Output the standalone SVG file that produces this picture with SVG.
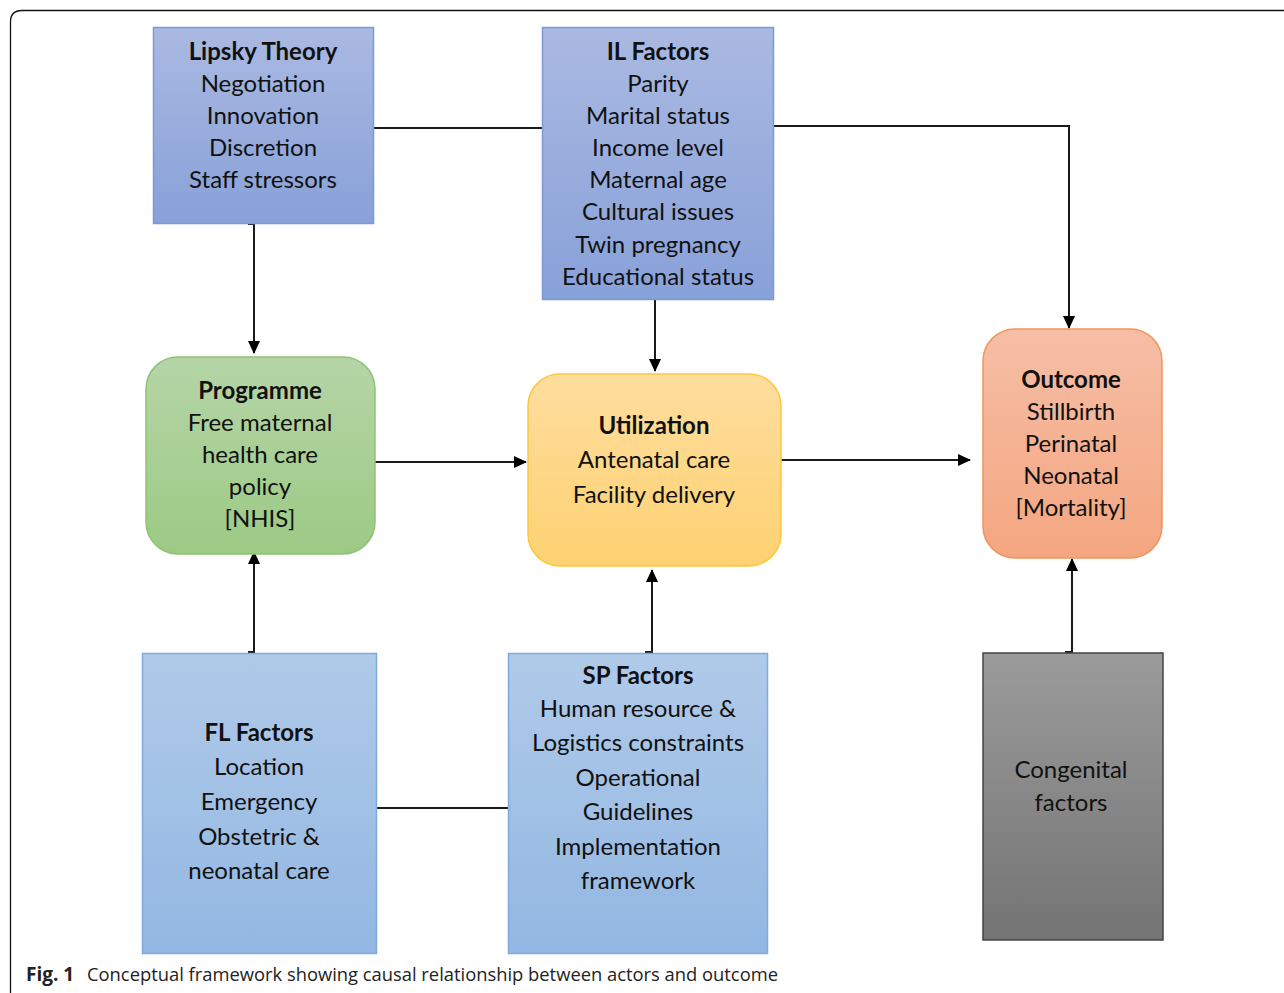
<svg xmlns="http://www.w3.org/2000/svg" width="1284" height="993" viewBox="0 0 1284 993">
<defs>
<linearGradient id="gBlue1" x1="0" y1="0" x2="0" y2="1"><stop offset="0" stop-color="#aab9e1"/><stop offset="1" stop-color="#88a1d9"/></linearGradient>
<linearGradient id="gBlue2" x1="0" y1="0" x2="0" y2="1"><stop offset="0" stop-color="#b0cae9"/><stop offset="1" stop-color="#92b7e2"/></linearGradient>
<linearGradient id="gGreen" x1="0" y1="0" x2="0" y2="1"><stop offset="0" stop-color="#b5d5a7"/><stop offset="1" stop-color="#9cca84"/></linearGradient>
<linearGradient id="gYellow" x1="0" y1="0" x2="0" y2="1"><stop offset="0" stop-color="#fedd9e"/><stop offset="1" stop-color="#fed272"/></linearGradient>
<linearGradient id="gOrange" x1="0" y1="0" x2="0" y2="1"><stop offset="0" stop-color="#f6bea6"/><stop offset="1" stop-color="#f4a680"/></linearGradient>
<linearGradient id="gGrey" x1="0" y1="0" x2="0" y2="1"><stop offset="0" stop-color="#9b9b9b"/><stop offset="1" stop-color="#747474"/></linearGradient>
<marker id="arr" markerUnits="userSpaceOnUse" markerWidth="13" markerHeight="13" viewBox="0 0 13 13" refX="12" refY="6.5" orient="auto"><path d="M0,0.5 L13,6.5 L0,12.5 z" fill="#000"/></marker>
</defs>
<style>
.t{font-family:Lato,"Open Sans","DejaVu Sans",sans-serif;font-size:24px;fill:#111;text-anchor:middle}
.b{font-weight:bold}
.c{stroke:#1a1a1a;stroke-width:2;fill:none}
.cap{font-family:"Open Sans","Liberation Sans",sans-serif;font-size:19px;fill:#222}
</style>
<rect width="1284" height="993" fill="#fff"/>
<path d="M10.5 993 V22 Q10.5 10.5 22 10.5 H1284" fill="none" stroke="#111" stroke-width="1.3"/>

<g id="connectors">
<line class="c" x1="374" y1="128" x2="542" y2="128"/>
<polyline class="c" points="774,126 1069,126 1069,328" marker-end="url(#arr)"/>
<polyline class="c" points="248,224 254,224 254,353" marker-end="url(#arr)"/>
<line class="c" x1="655" y1="300" x2="655" y2="371" marker-end="url(#arr)"/>
<line class="c" x1="375" y1="462" x2="526" y2="462" marker-end="url(#arr)"/>
<line class="c" x1="781" y1="460" x2="970" y2="460" marker-end="url(#arr)"/>
<polyline class="c" points="248,652 254,652 254,552" marker-end="url(#arr)"/>
<line class="c" x1="377" y1="808" x2="508" y2="808"/>
<polyline class="c" points="645,652 652,652 652,570" marker-end="url(#arr)"/>
<polyline class="c" points="1065,652 1072,652 1072,559" marker-end="url(#arr)"/>
</g>

<g id="lipsky">
<rect x="153.5" y="27.5" width="220" height="196" fill="url(#gBlue1)" stroke="#7b9ad6" stroke-width="1.5"/>
<text class="t b" x="263" y="60">Lipsky Theory</text>
<text class="t" x="263" y="92">Negotiation</text>
<text class="t" x="263" y="124">Innovation</text>
<text class="t" x="263" y="156">Discretion</text>
<text class="t" x="263" y="188">Staff stressors</text>
</g>

<g id="il">
<rect x="542.5" y="27.5" width="231" height="272" fill="url(#gBlue1)" stroke="#7b9ad6" stroke-width="1.5"/>
<text class="t b" x="658" y="60">IL Factors</text>
<text class="t" x="658" y="92">Parity</text>
<text class="t" x="658" y="124">Marital status</text>
<text class="t" x="658" y="156">Income level</text>
<text class="t" x="658" y="188">Maternal age</text>
<text class="t" x="658" y="220">Cultural issues</text>
<text class="t" x="658" y="253">Twin pregnancy</text>
<text class="t" x="658" y="285">Educational status</text>
</g>

<g id="programme">
<rect x="146" y="357" width="229" height="197" rx="32" fill="url(#gGreen)" stroke="#8fc274" stroke-width="1.5"/>
<text class="t b" x="260" y="399">Programme</text>
<text class="t" x="260" y="431">Free maternal</text>
<text class="t" x="260" y="463">health care</text>
<text class="t" x="260" y="495">policy</text>
<text class="t" x="260" y="527">[NHIS]</text>
</g>

<g id="utilization">
<rect x="528" y="374" width="253" height="192" rx="32" fill="url(#gYellow)" stroke="#fcc83c" stroke-width="1.5"/>
<text class="t b" x="654" y="434">Utilization</text>
<text class="t" x="654" y="468">Antenatal care</text>
<text class="t" x="654" y="503">Facility delivery</text>
</g>

<g id="outcome">
<rect x="983" y="329" width="179" height="229" rx="32" fill="url(#gOrange)" stroke="#f0955c" stroke-width="1.5"/>
<text class="t b" x="1071" y="388">Outcome</text>
<text class="t" x="1071" y="420">Stillbirth</text>
<text class="t" x="1071" y="452">Perinatal</text>
<text class="t" x="1071" y="484">Neonatal</text>
<text class="t" x="1071" y="516">[Mortality]</text>
</g>

<g id="fl">
<rect x="142.5" y="653.5" width="234" height="300" fill="url(#gBlue2)" stroke="#7eaae0" stroke-width="1.5"/>
<text class="t b" x="259" y="741">FL Factors</text>
<text class="t" x="259" y="775">Location</text>
<text class="t" x="259" y="810">Emergency</text>
<text class="t" x="259" y="845">Obstetric &amp;</text>
<text class="t" x="259" y="879">neonatal care</text>
</g>

<g id="sp">
<rect x="508.5" y="653.5" width="259" height="300" fill="url(#gBlue2)" stroke="#7eaae0" stroke-width="1.5"/>
<text class="t b" x="638" y="684">SP Factors</text>
<text class="t" x="638" y="717">Human resource &amp;</text>
<text class="t" x="638" y="751">Logistics constraints</text>
<text class="t" x="638" y="786">Operational</text>
<text class="t" x="638" y="820">Guidelines</text>
<text class="t" x="638" y="855">Implementation</text>
<text class="t" x="638" y="889">framework</text>
</g>

<g id="congenital">
<rect x="983" y="653" width="180" height="287" fill="url(#gGrey)" stroke="#444" stroke-width="1.5"/>
<text class="t" x="1071" y="778">Congenital</text>
<text class="t" x="1071" y="811">factors</text>
</g>

<g id="caption">
<text class="cap" x="26" y="981"><tspan font-weight="bold">Fig. 1</tspan></text>
<text class="cap" x="87" y="981" textLength="691" lengthAdjust="spacingAndGlyphs">Conceptual framework showing causal relationship between actors and outcome</text>
</g>
</svg>
